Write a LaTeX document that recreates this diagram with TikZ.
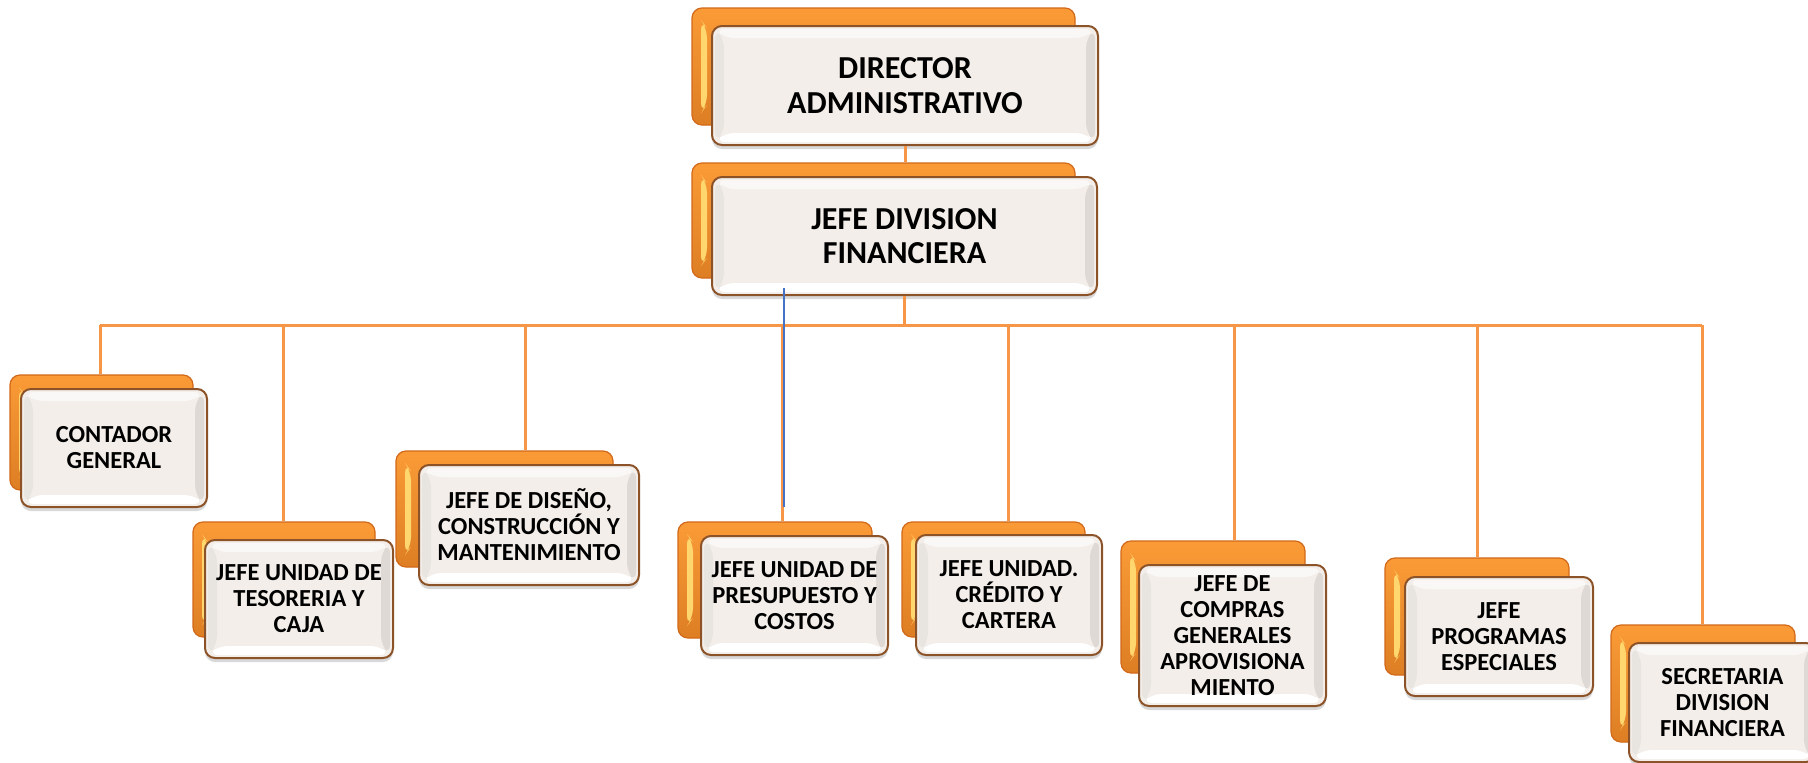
\documentclass[tikz,border=0pt]{standalone}
\usepackage{fontspec}
\setmainfont{Carlito}
\usetikzlibrary{shadows}
\definecolor{orgorange}{RGB}{246,140,40}
\definecolor{orgorangelt}{RGB}{250,155,55}
\definecolor{orgorangedk}{RGB}{210,105,25}
\definecolor{orgyellow}{RGB}{255,215,110}
\definecolor{frontfill}{RGB}{243,238,233}
\definecolor{frontborder}{RGB}{140,82,40}
\definecolor{bevelgrey}{RGB}{222,217,212}
\definecolor{bevelside}{RGB}{232,228,224}
\definecolor{linecol}{RGB}{247,150,70}
\definecolor{bluecol}{RGB}{68,114,196}
\newcommand\frontbevel{%
  \fill[bevelgrey] ([xshift=-3pt,yshift=-3pt]path picture bounding box.north east) -- ([xshift=-3pt,yshift=3pt]path picture bounding box.south east) -- ([xshift=-12pt,yshift=12pt]path picture bounding box.south east) -- ([xshift=-12pt,yshift=-12pt]path picture bounding box.north east) -- cycle;
  \fill[white] ([xshift=3pt,yshift=3pt]path picture bounding box.south west) -- ([xshift=-3pt,yshift=3pt]path picture bounding box.south east) -- ([xshift=-12pt,yshift=12pt]path picture bounding box.south east) -- ([xshift=12pt,yshift=12pt]path picture bounding box.south west) -- cycle;
  \fill[bevelside] ([xshift=3pt,yshift=-3pt]path picture bounding box.north west) -- ([xshift=3pt,yshift=3pt]path picture bounding box.south west) -- ([xshift=12pt,yshift=12pt]path picture bounding box.south west) -- ([xshift=12pt,yshift=-12pt]path picture bounding box.north west) -- cycle;
  \fill[white!60!frontfill] ([xshift=3pt,yshift=-3pt]path picture bounding box.north west) -- ([xshift=-3pt,yshift=-3pt]path picture bounding box.north east) -- ([xshift=-12pt,yshift=-12pt]path picture bounding box.north east) -- ([xshift=12pt,yshift=-12pt]path picture bounding box.north west) -- cycle;
}
\newcommand\backglow{%
  \fill[orgyellow] ([xshift=9pt,yshift=-12pt]path picture bounding box.north west) -- ([xshift=15pt,yshift=-20pt]path picture bounding box.north west) -- ([xshift=15pt,yshift=20pt]path picture bounding box.south west) -- ([xshift=9pt,yshift=12pt]path picture bounding box.south west) -- cycle;
}
\tikzset{
  backbox/.style={draw=orgorangedk, line width=1.2pt, top color=orgorangelt, bottom color=orgorange!90!black,
    rounded corners=10pt, inner sep=0pt, path picture={\backglow}},
  frontbox/.style={draw=frontborder, line width=2pt, fill=frontfill, rounded corners=10pt, inner sep=0pt,
    align=center, font=\bfseries\fontsize{24.5}{26}\selectfont, path picture={\frontbevel},
    drop shadow={shadow xshift=0pt, shadow yshift=-4pt, opacity=0.25, fill=black!60}},
  bigtext/.style={font=\bfseries\fontsize{32}{34.5}\selectfont},
  conn/.style={draw=linecol, line width=3pt},
  blueline/.style={draw=bluecol, line width=1.5pt},
}
\begin{document}
\begin{tikzpicture}[x=1pt,y=-1pt]
\useasboundingbox[fill=white] (0,0) rectangle (1808,763);

\coordinate (h1) at (100,325);
\coordinate (h2) at (283,325);
\coordinate (h3) at (525,325);
\coordinate (h4) at (782,325);
\coordinate (h5) at (1008,325);
\coordinate (h6) at (1234,325);
\coordinate (h7) at (1477,325);
\coordinate (h8) at (1702,325);

% top boxes
\node[backbox, minimum width=383pt, minimum height=117pt] (dirb) at (883.5,66.5) {};
\node[frontbox, bigtext, minimum width=386pt, minimum height=119pt] (dir) at (905,85.5) {DIRECTOR\\ADMINISTRATIVO};
\node[backbox, minimum width=383pt, minimum height=115pt] (jefeb) at (883.5,220.5) {};
\node[frontbox, bigtext, minimum width=385pt, minimum height=118pt] (jefe) at (904.5,236) {JEFE DIVISION\\FINANCIERA};

\draw[conn] (dir.south) -- (dir.south |- jefeb.north);
\draw[conn] (jefe.south) -- (jefe.south |- h1);
\draw[conn] (h1) -- (h8);

% children
\node[backbox, minimum width=183pt, minimum height=115pt] (c1b) at (101.5,432.5) {};
\node[frontbox, minimum width=186pt, minimum height=118pt] (c1) at (114,448) {CONTADOR\\GENERAL};

\node[backbox, minimum width=182pt, minimum height=115pt] (c2b) at (284,579.5) {};
\node[frontbox, minimum width=188pt, minimum height=118pt] (c2) at (299,599) {JEFE UNIDAD DE\\TESORERIA Y\\CAJA};

\node[backbox, minimum width=217pt, minimum height=116pt] (c3b) at (504.5,509) {};
\node[frontbox, minimum width=220pt, minimum height=120pt] (c3) at (529,525) {JEFE DE DISEÑO,\\CONSTRUCCIÓN Y\\MANTENIMIENTO};

\node[backbox, minimum width=194pt, minimum height=116pt] (c4b) at (775,580) {};
\node[frontbox, minimum width=187pt, minimum height=119pt] (c4) at (794.5,595.5) {JEFE UNIDAD DE\\PRESUPUESTO Y\\COSTOS};

\node[backbox, minimum width=183pt, minimum height=115pt] (c5b) at (993.5,579.5) {};
\node[frontbox, minimum width=186pt, minimum height=120pt] (c5) at (1009,595) {JEFE UNIDAD.\\CRÉDITO Y\\CARTERA};

\node[backbox, minimum width=184pt, minimum height=132pt] (c6b) at (1213,607) {};
\node[frontbox, minimum width=187pt, minimum height=141pt] (c6) at (1232.5,635.5) {JEFE DE\\COMPRAS\\GENERALES\\APROVISIONA\\MIENTO};

\node[backbox, minimum width=184pt, minimum height=117pt] (c7b) at (1477,616.5) {};
\node[frontbox, minimum width=188pt, minimum height=119pt] (c7) at (1499,636.5) {JEFE\\PROGRAMAS\\ESPECIALES};

\node[backbox, minimum width=184pt, minimum height=117pt] (c8b) at (1703,683.5) {};
\node[frontbox, minimum width=187pt, minimum height=119pt] (c8) at (1722.5,702.5) {SECRETARIA\\DIVISION\\FINANCIERA};

\foreach \i in {1,...,8} {
  \draw[conn] (h\i) -- (h\i |- c\i b.north);
}

% blue line
\coordinate (bl1) at (784,288);
\coordinate (bl2) at (784,507);
\draw[blueline] (bl1) -- (bl2);
\end{tikzpicture}
\end{document}
